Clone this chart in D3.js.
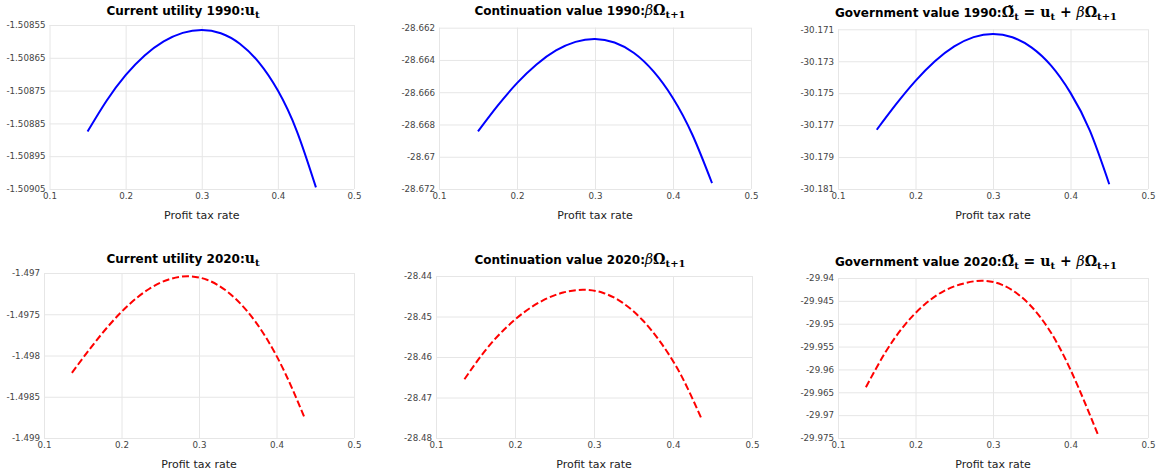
<!DOCTYPE html>
<html>
<head>
<meta charset="utf-8">
<script src="https://cdn.jsdelivr.net/npm/d3@7"></script>
<style>
  body { margin: 0; background: #fff; }
  svg { display: block; }
</style>
</head>
<body>
<div id="chart"></div>
<script>
// Profit tax rate grids
const taxRate1990 = [0.15, 0.175, 0.2, 0.225, 0.25, 0.275, 0.3, 0.325, 0.35, 0.375, 0.4, 0.425, 0.45];
const taxRate2020 = [0.136, 0.161, 0.186, 0.211, 0.236, 0.261, 0.286, 0.311, 0.336, 0.361, 0.386, 0.411, 0.436];

// 1990 series
const utility1990 = [-1.508875, -1.508781, -1.508703, -1.508643, -1.5086, -1.508574, -1.508565,
  -1.508575, -1.508607, -1.508664, -1.50875, -1.508874, -1.509045];
const continuation1990 = [-28.66843, -28.66685, -28.66544, -28.66428, -28.66341, -28.66288, -28.6627,
  -28.66292, -28.66357, -28.66471, -28.66637, -28.66865, -28.67163];
const government1990 = [-30.17729, -30.17569, -30.17423, -30.173, -30.17207, -30.17149, -30.17129,
  -30.1715, -30.17215, -30.17328, -30.17498, -30.17735, -30.1807];

// 2020 series
const utility2020 = [-1.49821, -1.497898, -1.497612, -1.497372, -1.497191, -1.497078, -1.49704,
  -1.497085, -1.497221, -1.49745, -1.497775, -1.49821, -1.49875];
const continuation2020 = [-28.4655, -28.45872, -28.45328, -28.44903, -28.44597, -28.44409, -28.4434,
  -28.44413, -28.44658, -28.4508, -28.45684, -28.46479, -28.4752];
const government2020 = [-29.9639, -29.9563, -29.9503, -29.9459, -29.9429, -29.94125, -29.9406,
  -29.94145, -29.94405, -29.94855, -29.95525, -29.96425, -29.9745];

// Tick labels
const xTicks = [0.1, 0.2, 0.3, 0.4, 0.5];
const utility1990Ticks = [-1.50905, -1.50895, -1.50885, -1.50875, -1.50865, -1.50855];
const continuation1990Ticks = [-28.672, -28.67, -28.668, -28.666, -28.664, -28.662];
const government1990Ticks = [-30.181, -30.179, -30.177, -30.175, -30.173, -30.171];
const utility2020Ticks = [-1.499, -1.4985, -1.498, -1.4975, -1.497];
const continuation2020Ticks = [-28.48, -28.47, -28.46, -28.45, -28.44];
const government2020Ticks = [-29.975, -29.97, -29.965, -29.96, -29.955, -29.95, -29.945, -29.94];

// Title text and math pieces
const titleLabels = ['Current utility 1990:', 'Continuation value 1990:', 'Government value 1990:',
  'Current utility 2020:', 'Continuation value 2020:', 'Government value 2020:'];
const mathUtility = [{ t: 'u' }, { t: 't', sub: true }];
const mathContinuation = [{ t: 'β', it: true }, { t: 'Ω' }, { t: 't+1', sub: true }];
const mathGovernment = [{ t: 'Ω̃' }, { t: 't', sub: true }, { t: ' = u' }, { t: 't', sub: true },
  { t: ' + ' }, { t: 'β', it: true }, { t: 'Ω' }, { t: 't+1', sub: true }];

const xLabel = 'Profit tax rate';

const width = 1159;
const height = 476;

const panels = [
  { x: taxRate1990, y: utility1990, ticks: utility1990Ticks, title: titleLabels[0], math: mathUtility,
    box: [49.5, 354, 25, 189], titleX: 183, titleY: 14.5, color: 'blue', dash: null },
  { x: taxRate1990, y: continuation1990, ticks: continuation1990Ticks, title: titleLabels[1], math: mathContinuation,
    box: [439, 751, 27.7, 189], titleX: 580, titleY: 15, color: 'blue', dash: null },
  { x: taxRate1990, y: government1990, ticks: government1990Ticks, title: titleLabels[2], math: mathGovernment,
    box: [838, 1148, 29.3, 189], titleX: 976, titleY: 16.5, color: 'blue', dash: null },
  { x: taxRate2020, y: utility2020, ticks: utility2020Ticks, title: titleLabels[3], math: mathUtility,
    box: [44, 354, 273, 438], titleX: 183, titleY: 262.5, color: 'red', dash: '7,3' },
  { x: taxRate2020, y: continuation2020, ticks: continuation2020Ticks, title: titleLabels[4], math: mathContinuation,
    box: [436, 752, 276, 438], titleX: 580, titleY: 263.5, color: 'red', dash: '7,3' },
  { x: taxRate2020, y: government2020, ticks: government2020Ticks, title: titleLabels[5], math: mathGovernment,
    box: [838, 1148, 278, 438], titleX: 976, titleY: 265.5, color: 'red', dash: '7,3' }
];

const svg = d3.select('#chart')
  .append('svg')
  .attr('width', width)
  .attr('height', height);

const tickFont = 'DejaVu Sans, Verdana, sans-serif';

panels.forEach(p => {
  const [left, right, top, bottom] = p.box;
  const innerW = right - left;
  const innerH = bottom - top;

  const xScale = d3.scaleLinear().domain([0.1, 0.5]).range([0, innerW]);
  const yScale = d3.scaleLinear().domain(d3.extent(p.ticks)).range([innerH, 0]);

  const g = svg.append('g').attr('transform', `translate(${left},${top})`);

  // vertical grid + x tick labels
  const xAxis = g.append('g')
    .attr('transform', `translate(0,${innerH})`)
    .call(d3.axisBottom(xScale).tickValues(xTicks).tickSize(-innerH).tickPadding(6).tickFormat(d => String(d)));
  xAxis.select('.domain').remove();
  xAxis.selectAll('line').attr('stroke', '#e6e6e6').attr('stroke-width', 1);
  xAxis.selectAll('text')
    .attr('fill', '#444')
    .style('font-family', tickFont)
    .style('font-size', '8.7px')
    .attr('dy', '0.5em');

  // horizontal grid + y tick labels
  const yAxis = g.append('g')
    .call(d3.axisLeft(yScale).tickValues(p.ticks).tickSize(-innerW).tickPadding(4).tickFormat(d => String(d)));
  yAxis.select('.domain').remove();
  yAxis.selectAll('line').attr('stroke', '#e6e6e6').attr('stroke-width', 1);
  yAxis.selectAll('text')
    .attr('fill', '#444')
    .style('font-family', tickFont)
    .style('font-size', '8.7px');

  // curve
  const line = d3.line()
    .x((d, i) => xScale(p.x[i]))
    .y(d => yScale(d))
    .curve(d3.curveNatural);

  g.append('path')
    .datum(p.y)
    .attr('fill', 'none')
    .attr('stroke', p.color)
    .attr('stroke-width', 2)
    .attr('stroke-dasharray', p.dash)
    .attr('d', line);

  // x axis title
  svg.append('text')
    .attr('x', left + innerW / 2)
    .attr('y', bottom + 30)
    .attr('text-anchor', 'middle')
    .style('font-family', tickFont)
    .style('font-size', '11px')
    .attr('fill', '#222')
    .text(xLabel);

  // subplot title with math part
  const title = svg.append('text')
    .attr('x', p.titleX)
    .attr('y', p.titleY)
    .attr('text-anchor', 'middle')
    .attr('fill', '#000');

  title.append('tspan')
    .style('font-family', tickFont)
    .style('font-weight', 'bold')
    .style('font-size', '12px')
    .text(p.title);

  let shifted = false;
  p.math.forEach(m => {
    const span = title.append('tspan')
      .style('font-family', 'DejaVu Serif, serif')
      .style('font-weight', m.it ? 'normal' : 'bold')
      .style('font-style', m.it ? 'italic' : 'normal')
      .style('font-size', m.sub ? '10px' : '14px')
      .text(m.t);
    if (m.sub && !shifted) { span.attr('dy', 3); shifted = true; }
    if (!m.sub && shifted) { span.attr('dy', -3); shifted = false; }
  });
});
</script>
</body>
</html>
